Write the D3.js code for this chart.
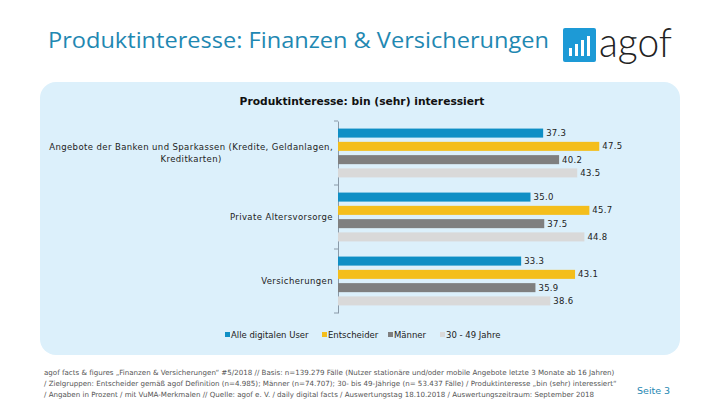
<!DOCTYPE html>
<html><head><meta charset="utf-8">
<script src="https://cdn.jsdelivr.net/npm/d3@7"></script>
<style>
html,body{margin:0;padding:0;background:#fff;}
svg{display:block;}
</style></head>
<body>
<svg id="c" width="720" height="405"></svg>
<script>
const title = "Produktinteresse: Finanzen & Versicherungen";
const subtitle = "Produktinteresse: bin (sehr) interessiert";
const categories = [
  "Angebote der Banken und Sparkassen (Kredite, Geldanlagen, Kreditkarten)",
  "Private Altersvorsorge",
  "Versicherungen"
];
const seriesNames = ["Alle digitalen User", "Entscheider", "Männer", "30 - 49 Jahre"];
const seriesColors = ["#0f8fc5", "#f4be1c", "#7f7f7f", "#d9d9d9"];
const allUser = [37.3, 35.0, 33.3];
const entscheider = [47.5, 45.7, 43.1];
const maenner = [40.2, 37.5, 35.9];
const jahre3049 = [43.5, 44.8, 38.6];
const seriesValues = [allUser, entscheider, maenner, jahre3049];
const footnote = [
  "agof facts & figures „Finanzen & Versicherungen“ #5/2018 // Basis: n=139.279 Fälle (Nutzer stationäre und/oder mobile Angebote letzte 3 Monate ab 16 Jahren)",
  "/ Zielgruppen: Entscheider gemäß agof Definition (n=4.985); Männer (n=74.707); 30- bis 49-Jährige (n= 53.437 Fälle) / Produktinteresse „bin (sehr) interessiert“",
  "/ Angaben in Prozent / mit VuMA-Merkmalen // Quelle: agof e. V. / daily digital facts / Auswertungstag 18.10.2018 / Auswertungszeitraum: September 2018"
];
const pageLabel = "Seite 3";

const svg = d3.select("#c");
const FONT = "'DejaVu Sans', Verdana, sans-serif";

// Title
svg.append("text").attr("x", 48).attr("y", 48)
  .attr("font-family", "'Open Sans', sans-serif").attr("font-size", 21)
  .attr("textLength", 501).attr("lengthAdjust", "spacingAndGlyphs")
  .attr("fill", "#1f88b2").text(title);

// Logo
const logo = svg.append("g").attr("transform", "translate(563,28)");
logo.append("rect").attr("width", 33).attr("height", 34).attr("rx", 2).attr("fill", "#1d9ad6");
[[7,20,4,8],[13,16,4,12],[19,12,4,16],[25,8,4,20]].forEach(b=>{
  logo.append("rect").attr("x", b[0]-1).attr("y", b[1]).attr("width", b[2]-1).attr("height", b[3]).attr("fill", "#fff");
});
svg.append("text").attr("x", 599).attr("y", 57)
  .attr("font-family", "Lato, sans-serif").attr("font-weight", 300).attr("font-size", 42)
  .attr("textLength", 73).attr("lengthAdjust", "spacingAndGlyphs")
  .attr("fill", "#222").text("agof");

// Panel
svg.append("rect").attr("x", 40).attr("y", 82).attr("width", 640).attr("height", 273)
  .attr("rx", 16).attr("fill", "#dcf0fb");

svg.append("text").attr("x", 362).attr("y", 105).attr("text-anchor", "middle")
  .attr("font-family", FONT).attr("font-weight", "bold").attr("font-size", 10.7)
  .attr("fill", "#111").text(subtitle);

// Scales
const y = d3.scaleBand().domain(categories).range([121, 313]).padding(0);
const yInner = d3.scaleBand().domain(seriesNames).range([0, y.bandwidth()])
  .paddingInner(0.32).paddingOuter(0.57);
const x = d3.scaleLinear().domain([0, 50]).range([338, 613]);

// Axis
const axis = d3.axisLeft(y).tickSize(0).tickFormat("");
const ag = svg.append("g").attr("transform", "translate(338,0)").call(axis);
ag.select(".domain").attr("stroke", "#8a9aa8").attr("stroke-width", 1);
const bounds = [121].concat(categories.map(c => y(c) + y.bandwidth()));
svg.selectAll("line.btick").data(bounds).enter().append("line")
  .attr("x1", 334).attr("x2", 338).attr("y1", d => d).attr("y2", d => d)
  .attr("stroke", "#8a9aa8");

// Bars
const groups = svg.selectAll("g.cat").data(categories).enter().append("g")
  .attr("transform", c => `translate(0,${y(c)})`);
groups.each(function(c, ci) {
  const g = d3.select(this);
  seriesNames.forEach((s, si) => {
    const v = seriesValues[si][ci];
    g.append("rect").attr("x", x(0)).attr("y", yInner(s))
      .attr("width", x(v) - x(0)).attr("height", yInner.bandwidth())
      .attr("fill", seriesColors[si]);
    g.append("text").attr("x", x(v) + 3).attr("y", yInner(s) + yInner.bandwidth() / 2 + 3)
      .attr("font-family", FONT).attr("font-size", 8.5).attr("fill", "#222")
      .attr("letter-spacing", 0.3)
      .text(v.toFixed(1));
  });
});

// Category labels
const LS = 0.4;
function wrapLines(text, maxW, size) {
  const tmp = svg.append("text").attr("font-family", FONT).attr("font-size", size).attr("letter-spacing", LS);
  const words = text.split(" ");
  const lines = []; let cur = "";
  words.forEach(w => {
    const t = cur ? cur + " " + w : w;
    tmp.text(t);
    if (tmp.node().getComputedTextLength() > maxW && cur) { lines.push(cur); cur = w; }
    else cur = t;
  });
  lines.push(cur);
  const widths = lines.map(l => { tmp.text(l); return tmp.node().getComputedTextLength(); });
  tmp.remove();
  return {lines, widths};
}
categories.forEach(c => {
  const size = 8.5;
  const {lines, widths} = wrapLines(c, 295, size);
  const blockW = d3.max(widths);
  const cx = 333 - blockW / 2;
  const lh = 12;
  const cy = y(c) + y.bandwidth() / 2;
  const t = svg.append("text").attr("font-family", FONT).attr("font-size", size)
    .attr("letter-spacing", LS).attr("fill", "#222").attr("text-anchor", "middle");
  lines.forEach((l, i) => {
    t.append("tspan").attr("x", cx)
      .attr("y", cy + 3 + (i - (lines.length - 1) / 2) * lh).text(l);
  });
});

// Legend
const legendX = [225, 322, 388, 440];
seriesNames.forEach((s, i) => {
  svg.append("rect").attr("x", legendX[i]).attr("y", 332).attr("width", 5).attr("height", 5)
    .attr("fill", seriesColors[i]);
  svg.append("text").attr("x", legendX[i] + 6).attr("y", 338)
    .attr("font-family", FONT).attr("font-size", 8.5).attr("fill", "#222").text(s);
});

// Footnote
footnote.forEach((l, i) => {
  svg.append("text").attr("x", 44).attr("y", 375 + i * 11)
    .attr("font-family", FONT).attr("font-size", 7.1).attr("fill", "#555").text(l);
});
svg.append("text").attr("x", 637).attr("y", 394)
  .attr("font-family", FONT).attr("font-size", 9.5).attr("fill", "#1f88b2").text(pageLabel);
</script>
</body></html>
